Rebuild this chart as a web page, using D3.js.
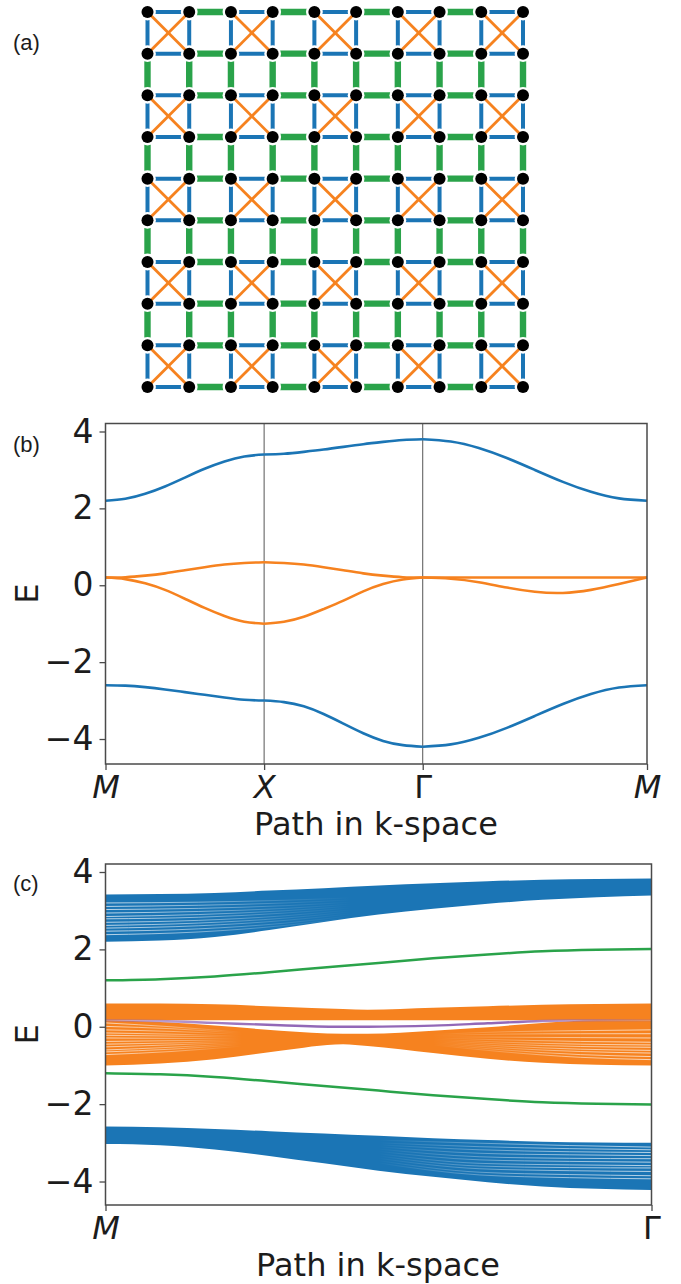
<!DOCTYPE html>
<html><head><meta charset="utf-8">
<script src="https://cdn.jsdelivr.net/npm/d3@7"></script>
<style>html,body{margin:0;padding:0;background:#fff}svg{display:block}</style>
</head><body><svg id="c" width="681" height="1284"></svg>
<script>
// ---- colours
const BLUE="#1b75b5",ORANGE="#f6821f",GREEN="#2aa34a",PURPLE="#9368b7",INK="#1c1c1c",AXIS="#4a4a4a";
// ---- panel (a) lattice
const siteIndex=[0,1,2,3,4,5,6,7,8,9];
const bondPattern=["intra","inter","intra","inter","intra","inter","intra","inter","intra"];
// ---- panel (b) path positions and bands
const pathTickLabels=["M","X","Γ","M"];
const pathTickPositions=[0,1,2,3.414];
const yTicks=[4,2,0,-2,-4];
const pathSampleM_X=[0,.125,.25,.375,.5,.625,.75,.875,1];
const bandTopMX=[2.20,2.25,2.38,2.57,2.80,3.03,3.22,3.35,3.40];
const bandTopXG=[3.40,3.42,3.47,3.53,3.60,3.67,3.73,3.78,3.80];
const bandTopGM=[3.80,3.74,3.57,3.31,3.00,2.69,2.43,2.26,2.20];
const bandBotMX=[-2.60,-2.61,-2.65,-2.71,-2.78,-2.85,-2.92,-2.98,-3.00];
const bandBotXG=[-3.00,-3.04,-3.15,-3.35,-3.60,-3.85,-4.05,-4.16,-4.20];
const bandBotGM=[-4.20,-4.14,-3.97,-3.71,-3.40,-3.09,-2.83,-2.66,-2.60];
const bandUpMX=[.20,.21,.25,.31,.39,.47,.54,.58,.60];
const bandUpXG=[.60,.58,.54,.47,.39,.31,.25,.21,.20];
const bandUpGM=[.20,.20,.20,.20,.20,.20,.20,.20,.20];
const bandLoMX=[.20,.16,.05,-.12,-.35,-.59,-.80,-.95,-1.00];
const bandLoXG=[-1.00,-.95,-.82,-.62,-.40,-.16,.03,.15,.20];
const bandLoGM=[.20,.17,.08,-.06,-.17,-.20,-.12,.03,.20];
// ---- panel (c) ribbon edges on a shared k grid
const kTicks=["M","Γ"];
const kGrid=[0,.1,.2,.3,.4,.5,.6,.7,.8,.9,1];
const blueUpperTop=[3.42,3.43,3.46,3.52,3.58,3.65,3.71,3.76,3.80,3.82,3.83];
const blueUpperBot=[2.20,2.23,2.32,2.50,2.71,2.90,3.05,3.18,3.28,3.35,3.39];
const blueLowerTop=[-2.58,-2.60,-2.64,-2.70,-2.76,-2.82,-2.88,-2.93,-2.97,-2.99,-3.00];
const blueLowerBot=[-3.03,-3.06,-3.17,-3.34,-3.53,-3.72,-3.88,-4.02,-4.13,-4.19,-4.22];
const greenUp=[1.20,1.23,1.30,1.41,1.53,1.65,1.77,1.87,1.95,1.99,2.01];
const greenDn=[-1.20,-1.23,-1.30,-1.41,-1.53,-1.65,-1.77,-1.87,-1.95,-1.99,-2.01];
const kOrange=[0,.1,.2,.32,.435,.48,.6,.7,.8,.9,1];
const orangeHiTop=[.60,.60,.58,.52,.46,.44,.49,.53,.57,.59,.60];
const orangeHiBot=[.17,.17,.17,.17,.17,.17,.17,.17,.17,.17,.17];
const orangeLoTop=[.17,.12,.03,-.10,-.18,-.18,-.10,-.01,.10,.17,.17];
const orangeLoBot=[-1.00,-.95,-.84,-.62,-.45,-.50,-.68,-.83,-.93,-.98,-1.00];
const purpleLine=[.17,.15,.10,.04,.00,.00,.03,.09,.15,.17,.17];
// ---- panel (c) pale gaps between ribbon lines
const gapBlueTopK=[0,.17,.33,.45];
const gapBlueTop=[[3.20,3.22,3.27,3.33],[3.11,3.14,3.20,3.28],[3.03,3.06,3.13,3.22],[2.94,2.98,3.06,3.17],[2.85,2.90,3.00,3.12],[2.79,2.83,2.94,3.07],[2.70,2.75,2.87,3.02],[2.62,2.68,2.81,2.97],[2.55,2.61,2.75,2.92],[2.47,2.53,2.68,2.87],[2.38,2.45,2.62,2.82]];
const gapBlueBotK=[.5,.685,.85,1];
const gapBlueBot=[[-2.93,-3.01,-3.07,-3.11],[-3.00,-3.10,-3.15,-3.18],[-3.05,-3.18,-3.23,-3.25],[-3.10,-3.27,-3.31,-3.33],[-3.16,-3.36,-3.40,-3.41],[-3.22,-3.44,-3.48,-3.50],[-3.28,-3.53,-3.57,-3.59],[-3.34,-3.60,-3.64,-3.65],[-3.40,-3.67,-3.72,-3.74],[-3.46,-3.76,-3.82,-3.85],[-3.52,-3.83,-3.90,-3.93]];
const gapOrangeLK=[0,.12,.25];
const gapOrangeL=[[.10,0,-.14],[.01,-.05,-.17],[-.08,-.12,-.20],[-.16,-.19,-.24],[-.22,-.24,-.27],[-.29,-.30,-.31],[-.38,-.36,-.34],[-.45,-.42,-.37],[-.52,-.47,-.40],[-.60,-.53,-.43],[-.65,-.58,-.46],[-.72,-.64,-.50]];
const gapOrangeRK=[.6,.73,.87,1];
const gapOrangeR=[[-.20,-.13,-.10,-.08],[-.23,-.19,-.18,-.18],[-.26,-.27,-.28,-.29],[-.29,-.34,-.38,-.40],[-.32,-.40,-.45,-.47],[-.35,-.45,-.51,-.53],[-.38,-.50,-.58,-.61],[-.41,-.55,-.64,-.68],[-.44,-.60,-.72,-.77],[-.47,-.65,-.79,-.85]];

const svg=d3.select("#c");
const FONT="'DejaVu Sans'";
// ---- panel labels
[["(a)",50],["(b)",452],["(c)",891]].forEach(([t,y])=>svg.append("text").attr("x",13).attr("y",y).attr("font-family","'Liberation Sans'").attr("font-size",22).attr("fill",INK).text(t));

// ---- (a)
const ax=d3.scalePoint().domain(siteIndex).range([147.5,523]);
const ay=d3.scalePoint().domain(siteIndex).range([12,387]);
const ga=svg.append("g");
const styleOf=k=>k==="intra"?{c:BLUE,w:4}:{c:GREEN,w:6.4};
siteIndex.forEach(r=>bondPattern.forEach((k,i)=>{const s=styleOf(k);
  ga.append("line").attr("x1",ax(i)).attr("x2",ax(i+1)).attr("y1",ay(r)).attr("y2",ay(r)).attr("stroke",s.c).attr("stroke-width",s.w);
  ga.append("line").attr("x1",ax(r)).attr("x2",ax(r)).attr("y1",ay(i)).attr("y2",ay(i+1)).attr("stroke",s.c).attr("stroke-width",s.w);
}));
siteIndex.forEach(r=>siteIndex.forEach(c=>ga.append("circle").attr("cx",ax(c)).attr("cy",ay(r)).attr("r",8.4).attr("fill","#fff")));
bondPattern.forEach((kr,r)=>{if(kr!=="intra")return;bondPattern.forEach((kc,c)=>{if(kc!=="intra")return;
  ga.append("line").attr("x1",ax(c)).attr("y1",ay(r)).attr("x2",ax(c+1)).attr("y2",ay(r+1)).attr("stroke",ORANGE).attr("stroke-width",2.8);
  ga.append("line").attr("x1",ax(c+1)).attr("y1",ay(r)).attr("x2",ax(c)).attr("y2",ay(r+1)).attr("stroke",ORANGE).attr("stroke-width",2.8);
})});
siteIndex.forEach(r=>siteIndex.forEach(c=>ga.append("circle").attr("cx",ax(c)).attr("cy",ay(r)).attr("r",6).attr("fill","#000")));

// ---- axes helper
function frame(g,x,y,ticks,labels){
  const [x0,x1]=x.range(),[y1,y0]=y.range();
  const xa=g.append("g").attr("transform",`translate(0,${y1})`).call(d3.axisBottom(x).tickValues(ticks).tickSize(6).tickPadding(5).tickFormat((d,i)=>labels[i]));
  const ya=g.append("g").attr("transform",`translate(${x0},0)`).call(d3.axisLeft(y).tickValues(yTicks).tickSize(6).tickPadding(6).tickFormat(d=>d<0?"−"+(-d):d));
  [xa,ya].forEach(a=>{a.selectAll(".domain").remove();a.selectAll(".tick line").attr("stroke",AXIS).attr("stroke-width",1.3);
    a.selectAll("text").attr("font-family",FONT).attr("font-size",33).attr("fill",INK);});
  xa.selectAll("text").attr("font-size",32).attr("font-style",(d,i)=>labels[i]==="Γ"?"normal":"italic");
  g.append("rect").attr("x",x0).attr("y",y0).attr("width",x1-x0).attr("height",y1-y0).attr("fill","none").attr("stroke",AXIS).attr("stroke-width",1.5);
}
function titles(g,x,y,tx,ty){
  g.append("text").attr("x",tx).attr("y",ty).attr("text-anchor","middle").attr("font-family",FONT).attr("font-size",32).attr("fill",INK).text("Path in k-space");
  g.append("text").attr("transform",`translate(38,${(y.range()[0]+y.range()[1])/2}) rotate(-90)`).attr("text-anchor","middle").attr("font-family",FONT).attr("font-size",32).attr("fill",INK).text("E");
}

// ---- (b)
const bx=d3.scaleLinear().domain([0,3.414]).range([105.5,647]);
const by=d3.scaleLinear().domain([-4.65,4.208]).range([764,423.5]);
const gb=svg.append("g");
pathTickPositions.slice(1,3).forEach(p=>gb.append("line").attr("x1",bx(p)).attr("x2",bx(p)).attr("y1",by.range()[0]).attr("y2",by.range()[1]).attr("stroke","#555").attr("stroke-width",1));
const segLine=d3.line().x(d=>bx(d[0])).y(d=>by(d[1])).curve(d3.curveNatural);
[[bandTopMX,bandTopXG,bandTopGM,BLUE],[bandBotMX,bandBotXG,bandBotGM,BLUE],[bandUpMX,bandUpXG,bandUpGM,ORANGE],[bandLoMX,bandLoXG,bandLoGM,ORANGE]].forEach(([a,b,c,col])=>{
  [a,b,c].forEach((vals,i)=>{
    const p0=pathTickPositions[i],p1=pathTickPositions[i+1];
    gb.append("path").attr("d",segLine(vals.map((v,j)=>[p0+(p1-p0)*pathSampleM_X[j],v]))).attr("fill","none").attr("stroke",col).attr("stroke-width",2.6);
  });
});
frame(gb,bx,by,pathTickPositions,pathTickLabels);
titles(gb,bx,by,376,835);

// ---- (c)
const cx=d3.scaleLinear().domain([0,1]).range([105.5,651.5]);
const cy=d3.scaleLinear().domain([-4.607,4.207]).range([1205,864]);
const gc=svg.append("g");
const defs=svg.append("defs");
const ribbon=(k,top,bot,curve)=>d3.area().x((d,i)=>cx(k[i])).y0((d,i)=>cy(bot[i])).y1((d,i)=>cy(top[i])).curve(curve)(top);
const cLine=d3.line().curve(d3.curveNatural);
const monoLine=d3.line().curve(d3.curveMonotoneX);
gc.append("path").attr("d",ribbon(kGrid,blueUpperTop,blueUpperBot,d3.curveNatural)).attr("fill",BLUE);
gc.append("path").attr("d",ribbon(kGrid,blueLowerTop,blueLowerBot,d3.curveNatural)).attr("fill",BLUE);
gc.append("path").attr("d",ribbon(kOrange,orangeHiTop,orangeHiBot,d3.curveMonotoneX)).attr("fill",ORANGE);
gc.append("path").attr("d",ribbon(kOrange,orangeLoTop,orangeLoBot,d3.curveMonotoneX)).attr("fill",ORANGE);
function gaps(id,k,rows,stops,w){
  const g=defs.append("linearGradient").attr("id",id).attr("gradientUnits","userSpaceOnUse")
    .attr("x1",cx(k[0])).attr("x2",cx(k[k.length-1])).attr("y1",0).attr("y2",0);
  stops.forEach(([o,a])=>g.append("stop").attr("offset",o).attr("stop-color","#fff").attr("stop-opacity",a));
  rows.forEach(r=>gc.append("path").attr("d",monoLine(r.map((v,i)=>[cx(k[i]),cy(v)]))).attr("fill","none").attr("stroke",`url(#${id})`).attr("stroke-width",w));
}
gaps("gbt",gapBlueTopK,gapBlueTop,[[0,.7],[.4,.45],[.75,.12],[1,0]],1);
gaps("gbb",gapBlueBotK,gapBlueBot,[[0,0],[.35,.3],[.6,.5],[1,.68]],1);
gaps("gol",gapOrangeLK,gapOrangeL,[[0,.65],[.5,.4],[.85,.1],[1,0]],1);
gaps("gor",gapOrangeRK,gapOrangeR,[[0,0],[.35,.25],[.6,.5],[1,.68]],1);
[[greenUp,GREEN],[greenDn,GREEN]].forEach(([v,c])=>gc.append("path").attr("d",cLine(v.map((e,i)=>[cx(kGrid[i]),cy(e)]))).attr("fill","none").attr("stroke",c).attr("stroke-width",2.5));
const pg=defs.append("linearGradient").attr("id","pg").attr("gradientUnits","userSpaceOnUse").attr("x1",cx(0)).attr("x2",cx(1)).attr("y1",0).attr("y2",0);
[[0,.4],[.2,.85],[.3,1],[.75,1],[.85,.6],[1,.2]].forEach(([o,a])=>pg.append("stop").attr("offset",o).attr("stop-color",PURPLE).attr("stop-opacity",a));
gc.append("path").attr("d",monoLine(purpleLine.map((e,i)=>[cx(kOrange[i]),cy(e)]))).attr("fill","none").attr("stroke","url(#pg)").attr("stroke-width",2.4);
frame(gc,cx,cy,[0,1],kTicks);
titles(gc,cx,cy,378,1276);
</script></body></html>
